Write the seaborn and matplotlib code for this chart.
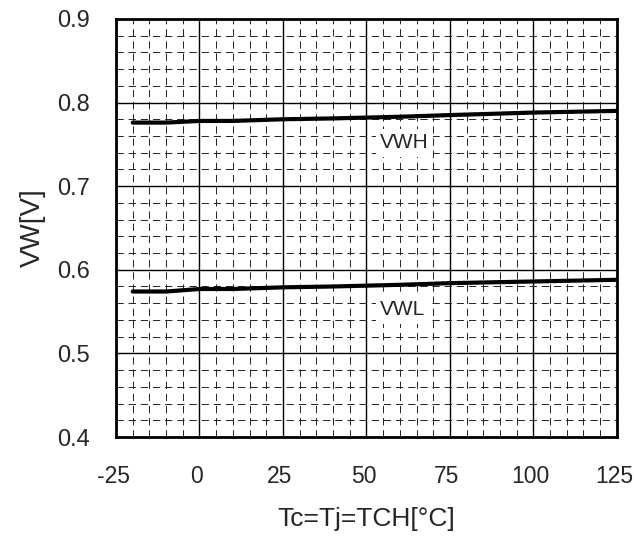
import matplotlib
matplotlib.use("Agg")
import matplotlib.pyplot as plt
import matplotlib.transforms as mtransforms
import seaborn as sns
import pandas as pd
from matplotlib.ticker import MultipleLocator

temps = [-20, -10, 0, 10, 25, 40, 50, 60, 75, 100, 125]
vwh = [0.776, 0.776, 0.778, 0.778, 0.780, 0.781, 0.782, 0.783, 0.785, 0.788, 0.790]
vwl = [0.574, 0.574, 0.577, 0.577, 0.579, 0.580, 0.581, 0.582, 0.584, 0.586, 0.588]
series_names = ["VWH", "VWL"]
x_ticks = [-25, 0, 25, 50, 75, 100, 125]
y_ticks = [0.4, 0.5, 0.6, 0.7, 0.8, 0.9]

df = pd.DataFrame({
    "T": temps * 2,
    "V": vwh + vwl,
    "s": [series_names[0]] * len(temps) + [series_names[1]] * len(temps),
})

sns.set_style("white")
plt.rcParams["font.family"] = ["Liberation Sans", "DejaVu Sans"]

fig = plt.figure(figsize=(6.34, 5.36), dpi=100)
ax = fig.add_axes([0.183, 0.1847, 0.79, 0.78])

ax.set_xlim(-25, 125)
ax.set_ylim(0.4, 0.9)
ax.xaxis.set_major_locator(MultipleLocator(25))
ax.xaxis.set_minor_locator(MultipleLocator(5))
ax.yaxis.set_major_locator(MultipleLocator(0.1))
ax.yaxis.set_minor_locator(MultipleLocator(0.02))
ax.grid(which="major", color="black", linewidth=1.0, linestyle="-")
ax.grid(which="minor", color="#222222", linewidth=0.7, linestyle=(0, (7.5, 5.0)))
ax.set_axisbelow(True)

sns.lineplot(data=df, x="T", y="V", hue="s", palette=["black", "black"],
             linewidth=3.0, legend=False, ax=ax, zorder=3)

ax.text(54, 0.7517, "VWH", fontsize=15, va="center", ha="left",
        bbox=dict(facecolor="white", edgecolor="none", pad=3), zorder=4)
ax.text(54, 0.552, "VWL", fontsize=15, va="center", ha="left",
        bbox=dict(facecolor="white", edgecolor="none", pad=3), zorder=4)

ax.set_xticks(x_ticks)
ax.set_xticklabels([str(t) for t in x_ticks])
ax.set_yticks(y_ticks)
ax.set_yticklabels([f"{t:.1f}" for t in y_ticks])
ax.tick_params(axis="both", which="both", length=0, labelsize=17)
ax.tick_params(axis="x", pad=20, labelsize=16.5)
ax.tick_params(axis="y", pad=19)

shift = mtransforms.ScaledTranslation(-3 / 100, 0, fig.dpi_scale_trans)
for lab in ax.get_xticklabels():
    lab.set_transform(lab.get_transform() + shift)

for sp in ax.spines.values():
    sp.set_visible(True)
    sp.set_color("black")
    sp.set_linewidth(2.0)

ax.set_xlabel("Tc=Tj=TCH[°C]", fontsize=19, labelpad=14)
ax.set_ylabel("VW[V]", fontsize=20, labelpad=8)

fig.savefig("out.png", dpi=100, facecolor="white")
